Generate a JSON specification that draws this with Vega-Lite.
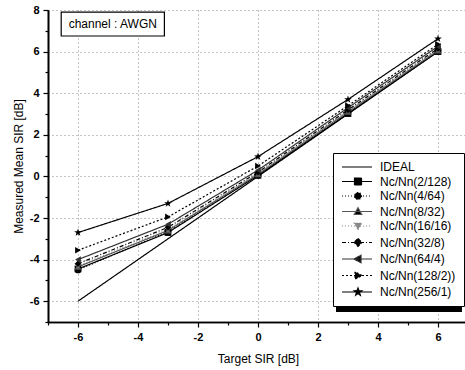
{
  "$schema": "https://vega.github.io/schema/vega-lite/v6.json",
  "width": 420,
  "height": 312,
  "autosize": "none",
  "padding": {"left": 48, "top": 10, "right": 0, "bottom": 48},
  "background": "white",
  "config": {
    "view": {"stroke": null},
    "font": "Liberation Sans",
    "axis": {
      "domainColor": "black", "domainWidth": 1.6,
      "tickColor": "black", "tickWidth": 1.2,
      "labelFont": "Liberation Sans", "labelFontSize": 11, "labelFontWeight": "bold", "labelColor": "black",
      "titleFont": "Liberation Sans", "titleFontSize": 12, "titleFontWeight": "normal", "titleColor": "black",
      "gridColor": "#888", "gridDash": [1, 3], "gridWidth": 1
    },
    "legend": {
      "orient": "none", "legendX": 285, "legendY": 143, "title": null,
      "strokeColor": "black", "fillColor": "white", "padding": 8,
      "labelFont": "Liberation Sans", "labelFontSize": 12, "labelColor": "black",
      "symbolSize": 100, "labelOffset": 27, "rowPadding": 2.5,
      "symbolStrokeWidth": 1.2, "symbolStrokeColor": "black", "symbolFillColor": "black"
    }
  },
  "datasets": {
    "series": [
      {"s": "IDEAL", "x": -6, "y": -6}, {"s": "IDEAL", "x": -3, "y": -3}, {"s": "IDEAL", "x": 0, "y": 0}, {"s": "IDEAL", "x": 3, "y": 3}, {"s": "IDEAL", "x": 6, "y": 6},
      {"s": "Nc/Nn(2/128)", "x": -6, "y": -4.45}, {"s": "Nc/Nn(2/128)", "x": -3, "y": -2.7}, {"s": "Nc/Nn(2/128)", "x": 0, "y": 0.05}, {"s": "Nc/Nn(2/128)", "x": 3, "y": 3.02}, {"s": "Nc/Nn(2/128)", "x": 6, "y": 6.0},
      {"s": "Nc/Nn(4/64)", "x": -6, "y": -4.5}, {"s": "Nc/Nn(4/64)", "x": -3, "y": -2.65}, {"s": "Nc/Nn(4/64)", "x": 0, "y": 0.05}, {"s": "Nc/Nn(4/64)", "x": 3, "y": 3.05}, {"s": "Nc/Nn(4/64)", "x": 6, "y": 6.05},
      {"s": "Nc/Nn(8/32)", "x": -6, "y": -4.35}, {"s": "Nc/Nn(8/32)", "x": -3, "y": -2.6}, {"s": "Nc/Nn(8/32)", "x": 0, "y": 0.1}, {"s": "Nc/Nn(8/32)", "x": 3, "y": 3.1}, {"s": "Nc/Nn(8/32)", "x": 6, "y": 6.05},
      {"s": "Nc/Nn(16/16)", "x": -6, "y": -4.3}, {"s": "Nc/Nn(16/16)", "x": -3, "y": -2.55}, {"s": "Nc/Nn(16/16)", "x": 0, "y": 0.15}, {"s": "Nc/Nn(16/16)", "x": 3, "y": 3.15}, {"s": "Nc/Nn(16/16)", "x": 6, "y": 6.1},
      {"s": "Nc/Nn(32/8)", "x": -6, "y": -4.2}, {"s": "Nc/Nn(32/8)", "x": -3, "y": -2.45}, {"s": "Nc/Nn(32/8)", "x": 0, "y": 0.2}, {"s": "Nc/Nn(32/8)", "x": 3, "y": 3.2}, {"s": "Nc/Nn(32/8)", "x": 6, "y": 6.15},
      {"s": "Nc/Nn(64/4)", "x": -6, "y": -4.0}, {"s": "Nc/Nn(64/4)", "x": -3, "y": -2.3}, {"s": "Nc/Nn(64/4)", "x": 0, "y": 0.3}, {"s": "Nc/Nn(64/4)", "x": 3, "y": 3.3}, {"s": "Nc/Nn(64/4)", "x": 6, "y": 6.25},
      {"s": "Nc/Nn(128/2))", "x": -6, "y": -3.55}, {"s": "Nc/Nn(128/2))", "x": -3, "y": -1.95}, {"s": "Nc/Nn(128/2))", "x": 0, "y": 0.5}, {"s": "Nc/Nn(128/2))", "x": 3, "y": 3.4}, {"s": "Nc/Nn(128/2))", "x": 6, "y": 6.35},
      {"s": "Nc/Nn(256/1)", "x": -6, "y": -2.7}, {"s": "Nc/Nn(256/1)", "x": -3, "y": -1.3}, {"s": "Nc/Nn(256/1)", "x": 0, "y": 0.95}, {"s": "Nc/Nn(256/1)", "x": 3, "y": 3.7}, {"s": "Nc/Nn(256/1)", "x": 6, "y": 6.62}
    ],
    "boxes": [
      {"kind": "shadow", "x": 2.6, "x2": 6.8, "y": 0.98, "y2": -6.52},
      {"kind": "note", "x": -6.56, "x2": -3.12, "y": 7.9, "y2": 6.75}
    ],
    "note": [{"x": -4.84, "y": 7.33, "label": "channel : AWGN"}]
  },
  "resolve": {"axis": {"x": "independent", "y": "independent"}, "legend": {"color": "independent", "shape": "independent", "strokeDash": "independent"}},
  "layer": [
    {
      "data": {"name": "boxes"},
      "transform": [{"filter": "datum.kind == 'shadow'"}],
      "mark": {"type": "rect", "fill": "black"},
      "encoding": {
        "x": {
          "field": "x", "type": "quantitative",
          "scale": {"domain": [-7, 7], "nice": false, "zero": false},
          "axis": {"orient": "bottom", "title": null, "values": [-7, -5, -3, -1, 1, 3, 5, 7], "labels": false, "tickSize": 3, "grid": false, "domain": true}
        },
        "x2": {"field": "x2"},
        "y": {
          "field": "y", "type": "quantitative",
          "scale": {"domain": [-7, 8], "nice": false, "zero": false},
          "axis": {"orient": "left", "title": null, "values": [-7, -5, -3, -1, 1, 3, 5, 7], "labels": false, "tickSize": 3, "grid": false, "domain": true}
        },
        "y2": {"field": "y2"}
      }
    },
    {
      "data": {"name": "boxes"},
      "transform": [{"filter": "datum.kind == 'note'"}],
      "mark": {"type": "rect", "fill": "white", "stroke": "black", "strokeWidth": 1.2},
      "encoding": {
        "x": {"field": "x", "type": "quantitative", "axis": null},
        "x2": {"field": "x2"},
        "y": {"field": "y", "type": "quantitative", "axis": null},
        "y2": {"field": "y2"}
      }
    },
    {
      "data": {"name": "series"},
      "mark": {"type": "line", "strokeWidth": 1.2},
      "encoding": {
        "x": {
          "field": "x", "type": "quantitative",
          "axis": {
            "orient": "bottom",
            "title": "Target SIR [dB]",
            "values": [-6, -4, -2, 0, 2, 4, 6],
            "labelExpr": "'' + datum.value",
            "tickSize": 5,
            "grid": true,
            "labelPadding": 4,
            "titlePadding": 11
          }
        },
        "y": {
          "field": "y", "type": "quantitative",
          "axis": {
            "orient": "left",
            "title": "Measured Mean SIR [dB]",
            "values": [-6, -4, -2, 0, 2, 4, 6, 8],
            "labelExpr": "'' + datum.value",
            "tickSize": 5,
            "grid": true,
            "labelPadding": 4,
            "titlePadding": 4
          }
        },
        "color": {
          "field": "s", "type": "nominal",
          "scale": {
            "domain": ["IDEAL", "Nc/Nn(2/128)", "Nc/Nn(4/64)", "Nc/Nn(8/32)", "Nc/Nn(16/16)", "Nc/Nn(32/8)", "Nc/Nn(64/4)", "Nc/Nn(128/2))", "Nc/Nn(256/1)"],
            "range": ["black", "black", "black", "#555", "#888", "black", "#333", "black", "black"]
          },
          "legend": {
            "encode": {
              "symbols": {
                "update": {
                  "shape": {"signal": "['M-1,0H5', 'M-1,0H5M1.5,-0.7H2.9V0.7H1.5Z', 'M-1,0H5M2.9,0A0.7,0.7,0,1,1,1.5,0A0.7,0.7,0,1,1,2.9,0Z', 'M-1,0H5M2.2,-0.75L2.95,0.6L1.45,0.6Z', 'M-1,0H5M2.2,0.75L2.95,-0.6L1.45,-0.6Z', 'M-1,0H5M2.2,-0.8L3,0L2.2,0.8L1.4,0Z', 'M-1,0H5M1.4,0L2.8,-0.75L2.8,0.75Z', 'M-1,0H5M3,0L1.6,-0.75L1.6,0.75Z', 'M-1,0H5M2.2,-0.8L2.388,-0.259L2.961,-0.247L2.504,0.099L2.67,0.647L2.2,0.32L1.73,0.647L1.896,0.099L1.439,-0.247L2.012,-0.259Z'][indexof(['IDEAL', 'Nc/Nn(2/128)', 'Nc/Nn(4/64)', 'Nc/Nn(8/32)', 'Nc/Nn(16/16)', 'Nc/Nn(32/8)', 'Nc/Nn(64/4)', 'Nc/Nn(128/2))', 'Nc/Nn(256/1)'], datum.value)]"},
                  "fill": {"signal": "datum.value == 'Nc/Nn(16/16)' ? '#888' : 'black'"},
                  "stroke": {"signal": "datum.value == 'Nc/Nn(16/16)' ? '#aaa' : 'black'"},
                  "strokeDash": {"signal": "scale('strokeDash', datum.value)"},
                  "strokeWidth": {"value": 1.2},
                  "fillOpacity": {"value": 1},
                  "opacity": {"value": 1}
                }
              }
            }
          }
        },
        "strokeDash": {
          "field": "s", "type": "nominal",
          "scale": {
            "domain": ["IDEAL", "Nc/Nn(2/128)", "Nc/Nn(4/64)", "Nc/Nn(8/32)", "Nc/Nn(16/16)", "Nc/Nn(32/8)", "Nc/Nn(64/4)", "Nc/Nn(128/2))", "Nc/Nn(256/1)"],
            "range": [[1, 0], [1, 0], [1, 2], [1, 0], [1, 2], [4, 2, 1, 2], [1, 0], [2, 2], [1, 0]]
          },
          "legend": null
        }
      }
    },
    {
      "data": {"name": "series"},
      "transform": [{"filter": "datum.s != 'IDEAL'"}],
      "mark": {"type": "point", "filled": true, "size": 45, "opacity": 1},
      "encoding": {
        "x": {"field": "x", "type": "quantitative", "axis": null},
        "y": {"field": "y", "type": "quantitative", "axis": null},
        "color": {"field": "s", "type": "nominal", "legend": null},
        "shape": {
          "field": "s", "type": "nominal",
          "scale": {
            "domain": ["IDEAL", "Nc/Nn(2/128)", "Nc/Nn(4/64)", "Nc/Nn(8/32)", "Nc/Nn(16/16)", "Nc/Nn(32/8)", "Nc/Nn(64/4)", "Nc/Nn(128/2))", "Nc/Nn(256/1)"],
            "range": ["circle", "square", "circle", "triangle-up", "triangle-down", "diamond", "triangle-left", "triangle-right", "M0,-1.2L0.282,-0.389L1.141,-0.371L0.456,0.149L0.706,0.971L0,0.48L-0.706,0.971L-0.456,0.149L-1.141,-0.371L-0.282,-0.389Z"]
          },
          "legend": null
        }
      }
    },
    {
      "data": {"name": "note"},
      "mark": {"type": "text", "font": "Liberation Sans", "fontSize": 12, "color": "black", "align": "center", "baseline": "middle"},
      "encoding": {
        "x": {"field": "x", "type": "quantitative", "axis": null},
        "y": {"field": "y", "type": "quantitative", "axis": null},
        "text": {"field": "label"}
      }
    }
  ]
}
